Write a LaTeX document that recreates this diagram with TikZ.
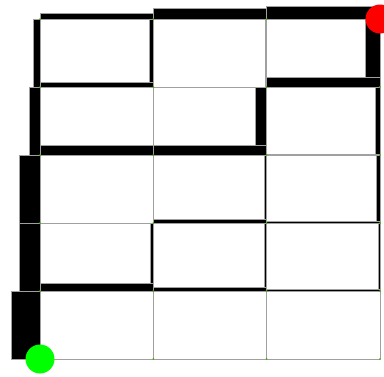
\documentclass[tikz,border=0pt]{standalone}
\usepackage{xcolor}
\usepackage{tikz}
\definecolor{gridgray}{HTML}{A0A0A0}
\definecolor{dotgreen}{HTML}{3CB000}

\begin{document}
\begin{tikzpicture}[
  x=113.333pt, y=68pt,
  gridln/.style={draw=gridgray, line width=0.9pt},
  wall/.style={fill=black, draw=gridgray, line width=0.4pt},
  corner/.style={circle, inner sep=0pt, minimum size=2pt, fill=dotgreen},
  goal/.style={circle, inner sep=0pt, minimum size=29pt}]
\useasboundingbox (-40pt,-17pt) rectangle (344pt,359pt);
\clip (-40pt,-17pt) rectangle (344pt,359pt);
% grid
\foreach \i in {0,...,3} \draw[gridln] (\i,0) -- (\i,5);
\foreach \j in {0,...,5} \draw[gridln] (0,\j) -- (3,\j);
% outer walls, left
\fill[wall] ([xshift=-6.7pt]0,4) rectangle (0,5);
\fill[wall] ([xshift=-11pt]0,3) rectangle (0,4);
\fill[wall] ([xshift=-21pt]0,2) rectangle (0,3);
\fill[wall] ([xshift=-21pt]0,1) rectangle (0,2);
\fill[wall] ([xshift=-28.3pt]0,0) rectangle (0,1);
% outer walls, top
\fill[wall] (0,5) rectangle ([yshift=6.3pt]1,5);
\fill[wall] (1,5) rectangle ([yshift=11pt]2,5);
\fill[wall] (2,5) rectangle ([yshift=13pt]3,5);
% outer walls, right
\fill[wall] ([xshift=-15pt]3,4) rectangle (3,5);
\fill[wall] ([xshift=-4.5pt]3,3) rectangle (3,4);
\fill[wall] ([xshift=-4pt]3,2) rectangle (3,3);
\fill[wall] ([xshift=-1.5pt]3,1) rectangle (3,2);
% inner walls, vertical
\fill[wall] ([xshift=-4.3pt]1,4) rectangle (1,5);
\fill[wall] ([xshift=-2.7pt]1,1) rectangle (1,2);
\fill[wall] ([xshift=-1.5pt]2,4) rectangle (2,5);
\fill[wall] ([xshift=-11pt]2,3) rectangle (2,4);
\fill[wall] ([xshift=-2.5pt]2,2) rectangle (2,3);
\fill[wall] ([xshift=-2pt]2,1) rectangle (2,2);
% inner walls, horizontal
\fill[wall] (0,4) rectangle ([yshift=5.3pt]1,4);
\fill[wall] (2,4) rectangle ([yshift=10pt]3,4);
\fill[wall] (0,3) rectangle ([yshift=10pt]1,3);
\fill[wall] (1,3) rectangle ([yshift=10pt]2,3);
\fill[wall] (2,3) rectangle ([yshift=1pt]3,3);
\fill[wall] (1,2) rectangle ([yshift=3.5pt]2,2);
\fill[wall] (2,2) rectangle ([yshift=1.5pt]3,2);
\fill[wall] (0,1) rectangle ([yshift=7.5pt]1,1);
\fill[wall] (1,1) rectangle ([yshift=4pt]2,1);
\fill[wall] (2,1) rectangle ([yshift=1.5pt]3,1);
% vertex marks
\foreach \i in {0,...,3} \foreach \j in {0,...,5} \node[corner] (v\i\j) at (\i,\j) {};
% start and goal
\node[goal, fill=green] (start) at (0,0) {};
\node[goal, fill=red] (target) at (3,5) {};
\end{tikzpicture}
\end{document}
